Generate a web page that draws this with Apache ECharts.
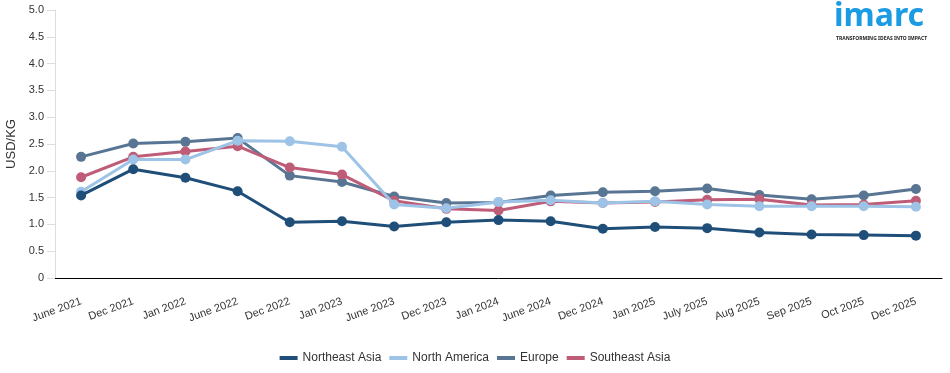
<!DOCTYPE html>
<html>
<head>
<meta charset="utf-8">
<script src="https://cdn.jsdelivr.net/npm/echarts@6/dist/echarts.min.js"></script>
<style>
html,body{margin:0;padding:0;background:#fff;}
#chart{width:950px;height:373px;}
</style>
</head>
<body>
<div id="chart"></div>
<script>
var categories = ['June 2021','Dec 2021','Jan 2022','June 2022','Dec 2022','Jan 2023','June 2023','Dec 2023','Jan 2024','June 2024','Dec 2024','Jan 2025','July 2025','Aug 2025','Sep 2025','Oct 2025','Dec 2025'];
var northeastAsia = [1.54,2.03,1.87,1.62,1.04,1.06,0.96,1.04,1.08,1.06,0.92,0.95,0.93,0.85,0.81,0.80,0.79];
var northAmerica  = [1.61,2.21,2.21,2.56,2.55,2.45,1.37,1.30,1.42,1.45,1.40,1.43,1.37,1.34,1.34,1.34,1.33];
var europe        = [2.26,2.51,2.54,2.61,1.91,1.79,1.52,1.40,1.41,1.54,1.60,1.62,1.67,1.55,1.47,1.54,1.66];
var southeastAsia = [1.88,2.26,2.36,2.46,2.06,1.93,1.44,1.29,1.26,1.43,1.40,1.42,1.46,1.47,1.36,1.37,1.44];
var yTicks = [0,0.5,1,1.5,2,2.5,3,3.5,4,4.5,5];

var seriesNames = ['Northeast Asia','North America','Europe','Southeast Asia'];
var seriesData = [northeastAsia, northAmerica, europe, southeastAsia];
var colors = ['#1f4e79','#9dc3e6','#587593','#bf5d78'];
var zs = [6,5,3,4];

var chart = echarts.init(document.getElementById('chart'));
var font = 'Liberation Sans, Arial, sans-serif';
chart.setOption({
  animation: false,
  textStyle: {fontFamily: font},
  grid: {left: 55, right: 8, top: 10, bottom: 95, containLabel: false, outerBoundsMode: 'none'},
  legend: {
    data: seriesNames,
    left: 'center',
    top: 347,
    icon: 'rect',
    itemWidth: 18,
    itemHeight: 4,
    itemGap: 8,
    textStyle: {fontSize: 12, color: '#333', fontFamily: font}
  },
  xAxis: {
    type: 'category',
    data: categories,
    boundaryGap: true,
    axisLine: {lineStyle: {color: '#000', width: 1}},
    axisTick: {alignWithLabel: true, length: 7, lineStyle: {color: '#000'}},
    axisLabel: {rotate: 20, fontSize: 11, color: '#333', margin: 23, interval: 0, fontFamily: font},
    splitLine: {show: false}
  },
  yAxis: {
    type: 'value',
    min: 0, max: 5, interval: 0.5,
    name: 'USD/KG',
    nameLocation: 'middle',
    nameGap: 37,
    nameTextStyle: {fontSize: 13, color: '#333', fontFamily: font},
    axisLine: {show: true, lineStyle: {color: '#ddd'}},
    axisTick: {show: true, length: 8, lineStyle: {color: '#ddd'}},
    axisLabel: {fontSize: 11, color: '#333', margin: 11, fontFamily: font,
      formatter: function(v){ return v === 0 ? '0' : v.toFixed(1); }},
    splitLine: {show: false}
  },
  series: seriesNames.map(function(n, i){
    return {
      name: n,
      type: 'line',
      data: seriesData[i],
      z: zs[i],
      symbol: 'circle',
      symbolSize: 10,
      lineStyle: {width: 3, color: colors[i]},
      itemStyle: {color: colors[i]}
    };
  }),
  graphic: [
    {type: 'text', left: 834, top: 1, style: {text: 'imarc', font: 'bold 32px "Noto Sans", sans-serif', fill: '#1a9be3'}},
    {type: 'text', left: 836, top: 36, style: {text: 'TRANSFORMING IDEAS INTO IMPACT', font: 'bold 5px "Noto Sans", sans-serif', fill: '#222'}}
  ]
});
</script>
</body>
</html>
